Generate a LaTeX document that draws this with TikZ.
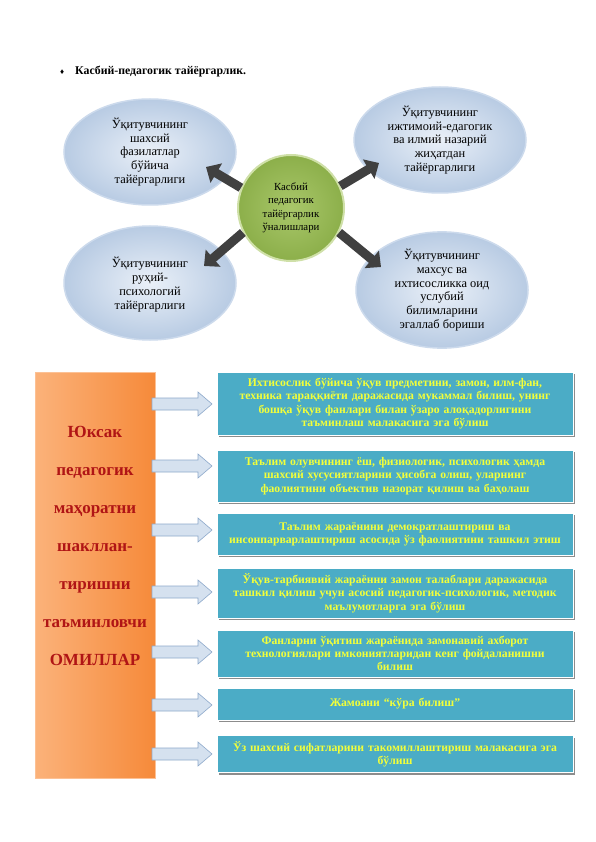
\documentclass[tikz,border=0pt]{standalone}
\usepackage{fontspec}
\setmainfont{Liberation Serif}
\usetikzlibrary{shapes.geometric,arrows.meta,calc,shadows}
\definecolor{ellin}{HTML}{EAF0F8}
\definecolor{ellout}{HTML}{B8CBE3}
\definecolor{elldraw}{HTML}{CCDAEC}
\definecolor{grin}{HTML}{A9C76A}
\definecolor{grout}{HTML}{8CAF4A}
\definecolor{grdraw}{HTML}{CFE0A8}
\definecolor{arrgray}{HTML}{404040}
\definecolor{boxblue}{HTML}{4BACC6}
\definecolor{boxtext}{HTML}{F2FF3A}
\definecolor{orA}{HTML}{FBB27A}
\definecolor{orB}{HTML}{F68A3A}
\definecolor{omtext}{HTML}{B01515}
\definecolor{barfill}{HTML}{D5E1EF}
\definecolor{bardraw}{HTML}{8EA9CB}
\tikzset{
  ell/.style={ellipse, minimum width=172pt, minimum height=106pt, inner sep=0pt,
    align=center, font=\fontsize{12.4}{13.8}\selectfont, draw=elldraw, line width=1.5pt,
    inner color=ellin, outer color=ellout},
  centre/.style={circle, minimum size=106pt, inner sep=0pt, align=center,
    font=\fontsize{10.8}{13.5}\selectfont, draw=grdraw, line width=2pt,
    inner color=grin, outer color=grout},
  bigarr/.style={draw=arrgray, line width=9pt, -{Triangle[length=12pt,width=22pt]}},
  bbox/.style={rectangle, draw=white, line width=1pt, fill=boxblue, text=boxtext,
    font=\bfseries\fontsize{11.7}{13.3}\selectfont, align=center, text width=340pt,
    minimum width=356pt, inner sep=0pt,
    drop shadow={shadow xshift=1.5pt, shadow yshift=-2pt, fill=black!45, opacity=1}},
  omil/.style={rectangle, minimum width=120pt, minimum height=406pt, inner sep=0pt,
    left color=orA, right color=orB, draw=orA!80!white, line width=0.6pt},
  blockarr/.style={fill=barfill, draw=bardraw, line width=0.6pt}
}
\newcommand{\barrow}[2]{% name, y
  \path[blockarr] (152,#2-6) -- (198,#2-6) -- (198,#2-12) -- (212,#2) -- (198,#2+12)
     -- (198,#2+6) -- (152,#2+6) -- cycle;
  \coordinate (#1) at (182,#2);}
\begin{document}
\begin{tikzpicture}[x=1pt,y=-1pt]
\useasboundingbox (0,0) rectangle (596,842);
\fill[white] (0,0) rectangle (596,842);

% title
\node[anchor=west, inner sep=0pt] (bul) at (60,72) {\fontsize{8}{9}\selectfont ♦};
\node[anchor=west, inner sep=0pt, font=\bfseries\fontsize{11.8}{13}\selectfont] (title) at (75,72)
  {Касбий-педагогик тайёргарлик.};

% ellipses
\node[ell] (tl) at (150,152) {Ўқитувчининг\\шахсий\\фазилатлар\\бўйича\\тайёргарлиги};
\node[ell] (tr) at (440,140) {Ўқитувчининг\\ижтимоий-едагогик\\ва илмий назарий\\жиҳатдан\\тайёргарлиги};
\node[ell, minimum height=114pt] (bl) at (150,283) {\\Ўқитувчининг\\руҳий-\\психологий\\тайёргарлиги};
\node[ell, minimum height=114pt] (br) at (442,290) {Ўқитувчининг\\махсус ва\\ихтисосликка оид\\услубий\\билимларини\\эгаллаб бориши};

% centre
\node[centre] (c) at (291,208) {Касбий\\педагогик\\тайёргарлик\\ўналишлари};

% arrows
\coordinate (ptl) at (206,167);
\coordinate (ptr) at (379,163);
\coordinate (pbl) at (204,266);
\coordinate (pbr) at (381,267);
\draw[bigarr] (c.158) -- (ptl);
\draw[bigarr] (c.24) -- (ptr);
\draw[bigarr] (c.207) -- (pbl);
\draw[bigarr] (c.-27) -- (pbr);

% left orange box
\node[omil] (om) at (95,575) {};
\node[align=center, text=omtext, font=\bfseries\fontsize{17}{38}\selectfont] (omt) at (95,546)
  {Юксак\\педагогик\\маҳоратни\\шакллан-\\тиришни\\таъминловчи\\ОМИЛЛАР};

% block arrows
\barrow{a1}{404}
\barrow{a2}{466}
\barrow{a3}{530}
\barrow{a4}{592}
\barrow{a5}{652}
\barrow{a6}{705}
\barrow{a7}{754}

% blue boxes
\node[bbox, minimum height=63pt] (b1) at (395,403.5)
  {Ихтисослик бўйича ўқув предметини, замон, илм-фан,\\техника тараққиёти даражасида мукаммал билиш, унинг\\бошқа ўқув фанлари билан ўзаро алоқадорлигини\\таъминлаш малакасига эга бўлиш};
\node[bbox, minimum height=52pt] (b2) at (395,476)
  {Таълим олувчининг ёш, физиологик, психологик ҳамда\\шахсий хусусиятларини ҳисобга олиш, уларнинг\\фаолиятини объектив назорат қилиш ва баҳолаш};
\node[bbox, minimum height=42pt] (b3) at (395,534)
  {Таълим жараёнини демократлаштириш ва\\инсонпарварлаштириш асосида ўз фаолиятини ташкил этиш};
\node[bbox, minimum height=50pt] (b4) at (395,593)
  {Ўқув-тарбиявий жараённи замон талаблари даражасида\\ташкил қилиш учун асосий педагогик-психологик, методик\\маълумотларга эга бўлиш};
\node[bbox, minimum height=47pt] (b5) at (395,653.5)
  {Фанларни ўқитиш жараёнида замонавий ахборот\\технологиялари имкониятларидан кенг фойдаланишни\\билиш};
\node[bbox, minimum height=32pt] (b6) at (395,704)
  {Жамоани “кўра билиш”};
\node[bbox, minimum height=37pt] (b7) at (395,754)
  {Ўз шахсий сифатларини такомиллаштириш малакасига эга\\бўлиш};
\end{tikzpicture}
\end{document}
